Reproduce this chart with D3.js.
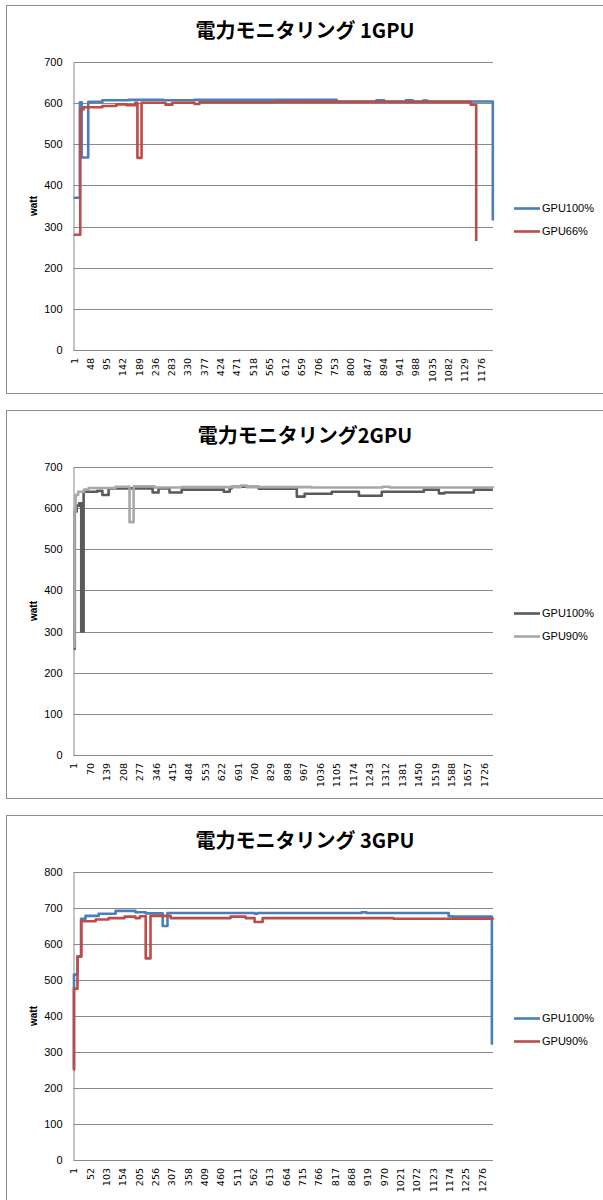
<!DOCTYPE html>
<html><head><meta charset="utf-8">
<script src="https://cdn.jsdelivr.net/npm/d3@7/dist/d3.min.js"></script>
<style>body{margin:0;background:#fff}</style>
</head><body><svg id="c" width="603" height="1200"></svg>
<script>
// ---------- DATA ----------
const titles = ["電力モニタリング 1GPU", "電力モニタリング2GPU", "電力モニタリング 3GPU"];
const categoryCounts = [1211, 1763, 1310];
const yMaxes = [700, 700, 800];
const yTicks1 = [0, 100, 200, 300, 400, 500, 600, 700];
const yTicks2 = [0, 100, 200, 300, 400, 500, 600, 700];
const yTicks3 = [0, 100, 200, 300, 400, 500, 600, 700, 800];
const xLabels1 = [1,48,95,142,189,236,283,330,377,424,471,518,565,612,659,706,753,800,847,894,941,988,1035,1082,1129,1176];
const xLabels2 = [1,70,139,208,277,346,415,484,553,622,691,760,829,898,967,1036,1105,1174,1243,1312,1381,1450,1519,1588,1657,1726];
const xLabels3 = [1,52,103,154,205,256,307,358,409,460,511,562,613,664,715,766,817,868,919,970,1021,1072,1123,1174,1225,1276];
const seriesNames1 = ["GPU100%", "GPU66%"];
const seriesNames2 = ["GPU100%", "GPU90%"];
const seriesNames3 = ["GPU100%", "GPU90%"];
// step data: [sample index where the level starts, watt]
const gpu1_100 = [[1,370],[19,602],[24,468],[43,603],[84,607],[160,608],[260,607],[350,608],[760,604],[875,607],[897,604],[960,607],[980,604],[1010,606],[1022,604],[1211,315]];
const gpu1_66 = [[1,280],[20,585],[30,590],[84,593],[124,597],[153,595],[179,601],[185,467],[197,601],[266,596],[286,601],[350,598],[364,602],[580,603],[1147,596],[1163,265]];
const gpu2_100 = [[1,258],[6,592],[14,606],[24,612],[33,300],[43,640],[100,642],[122,632],[148,648],[333,638],[358,648],[404,638],[455,645],[632,640],[657,648],[665,652],[779,647],[939,628],[972,635],[1086,640],[1200,630],[1296,640],[1473,645],[1536,636],[1560,638],[1683,645],[1763,645]];
const gpu2_90 = [[1,262],[5,590],[9,632],[20,640],[45,645],[64,649],[177,652],[236,566],[253,653],[341,650],[455,651],[703,655],[728,651],[1000,650],[1300,652],[1330,650],[1763,649]];
const gpu3_100 = [[1,253],[2,515],[13,565],[24,670],[38,678],[79,684],[132,692],[194,688],[226,685],[279,650],[294,686],[566,684],[575,686],[900,688],[915,686],[1172,677],[1185,676],[1307,320]];
const gpu3_90 = [[1,250],[2,476],[13,565],[25,663],[70,668],[110,672],[160,676],[194,672],[208,677],[226,560],[241,678],[304,672],[491,676],[538,672],[566,661],[591,672],[1000,670],[1310,668]];

// ---------- DRAW ----------
const svg = d3.select("#c");
const panels = [
  {top: 5, title: titles[0], n: categoryCounts[0], yMax: yMaxes[0], yTicks: yTicks1, xLabels: xLabels1,
   series: [gpu1_100, gpu1_66], names: seriesNames1, colors: ["#4a7ebb", "#be4b48"]},
  {top: 410, title: titles[1], n: categoryCounts[1], yMax: yMaxes[1], yTicks: yTicks2, xLabels: xLabels2,
   series: [gpu2_100, gpu2_90], names: seriesNames2, colors: ["#5a5a5a", "#a8a8a8"]},
  {top: 815, title: titles[2], n: categoryCounts[2], yMax: yMaxes[2], yTicks: yTicks3, xLabels: xLabels3,
   series: [gpu3_100, gpu3_90], names: seriesNames3, colors: ["#4a7ebb", "#be4b48"]}
];
const left = 73.5, right = 493;

panels.forEach(p => {
  const g = svg.append("g");
  g.append("rect").attr("x", 6.5).attr("y", p.top + 0.5).attr("width", 602).attr("height", 388)
    .attr("fill", "#fff").attr("stroke", "#8e8e8e").attr("stroke-width", 1);
  g.append("text").attr("x", 305).attr("y", p.top + 26).attr("dy", "0.36em")
    .attr("text-anchor", "middle").attr("font-family", "'Noto Sans CJK JP'")
    .attr("font-weight", "bold").attr("font-size", 20).attr("fill", "#000").text(p.title);

  const plotTop = p.top + 57, plotBottom = p.top + 345;
  const x = d3.scaleLinear().domain([0.5, p.n + 0.5]).range([left, right]);
  const y = d3.scaleLinear().domain([0, p.yMax]).range([plotBottom, plotTop]);

  // gridlines
  g.append("g").selectAll("line").data(p.yTicks.filter(v => v > 0)).join("line")
    .attr("x1", left).attr("x2", right).attr("y1", d => Math.round(y(d)) + 0.5).attr("y2", d => Math.round(y(d)) + 0.5)
    .attr("stroke", "#8a8a8a").attr("stroke-width", 1);
  // y axis
  const ya = g.append("g").attr("transform", `translate(${left},0)`)
    .call(d3.axisLeft(y).tickValues(p.yTicks).tickSize(0).tickPadding(11));
  ya.select(".domain").attr("stroke", "#8a8a8a");
  ya.selectAll("text").attr("font-family", "'Liberation Sans'").attr("font-size", 11).attr("fill", "#000");
  // x axis
  const xa = g.append("g").attr("transform", `translate(0,${plotBottom})`)
    .call(d3.axisBottom(x).tickValues(p.xLabels).tickFormat(d3.format("d")).tickSize(0).tickPadding(0));
  xa.select(".domain").attr("stroke", "#8a8a8a").attr("d", `M${left},0.5H${right}`);
  xa.selectAll("text").attr("font-family", "'DejaVu Sans'").attr("font-size", 9.5).attr("fill", "#000")
    .attr("transform", "rotate(-90)").attr("text-anchor", "end").attr("x", -8).attr("y", 0).attr("dy", "0.35em");

  // y title
  g.append("text").attr("transform", `translate(37,${(plotTop + plotBottom) / 2}) rotate(-90)`)
    .attr("text-anchor", "middle").attr("font-family", "'Liberation Sans'").attr("font-weight", "bold")
    .attr("font-size", 10).attr("fill", "#000").text("watt");

  // series
  const line = d3.line().x(d => x(d[0])).y(d => y(d[1])).curve(d3.curveStepAfter);
  p.series.forEach((s, i) => {
    g.append("path").datum(s).attr("d", line).attr("fill", "none")
      .attr("stroke", p.colors[i]).attr("stroke-width", 2.6).attr("stroke-linejoin", "round");
  });

  // legend
  p.names.forEach((nm, i) => {
    const ly = p.top + 203.5 + i * 23;
    g.append("line").attr("x1", 514).attr("x2", 540).attr("y1", ly).attr("y2", ly)
      .attr("stroke", p.colors[i]).attr("stroke-width", 2.6);
    g.append("text").attr("x", 542).attr("y", ly).attr("dy", "0.35em")
      .attr("font-family", "'Liberation Sans'").attr("font-size", 11).attr("fill", "#000").text(nm);
  });
});
</script></body></html>
